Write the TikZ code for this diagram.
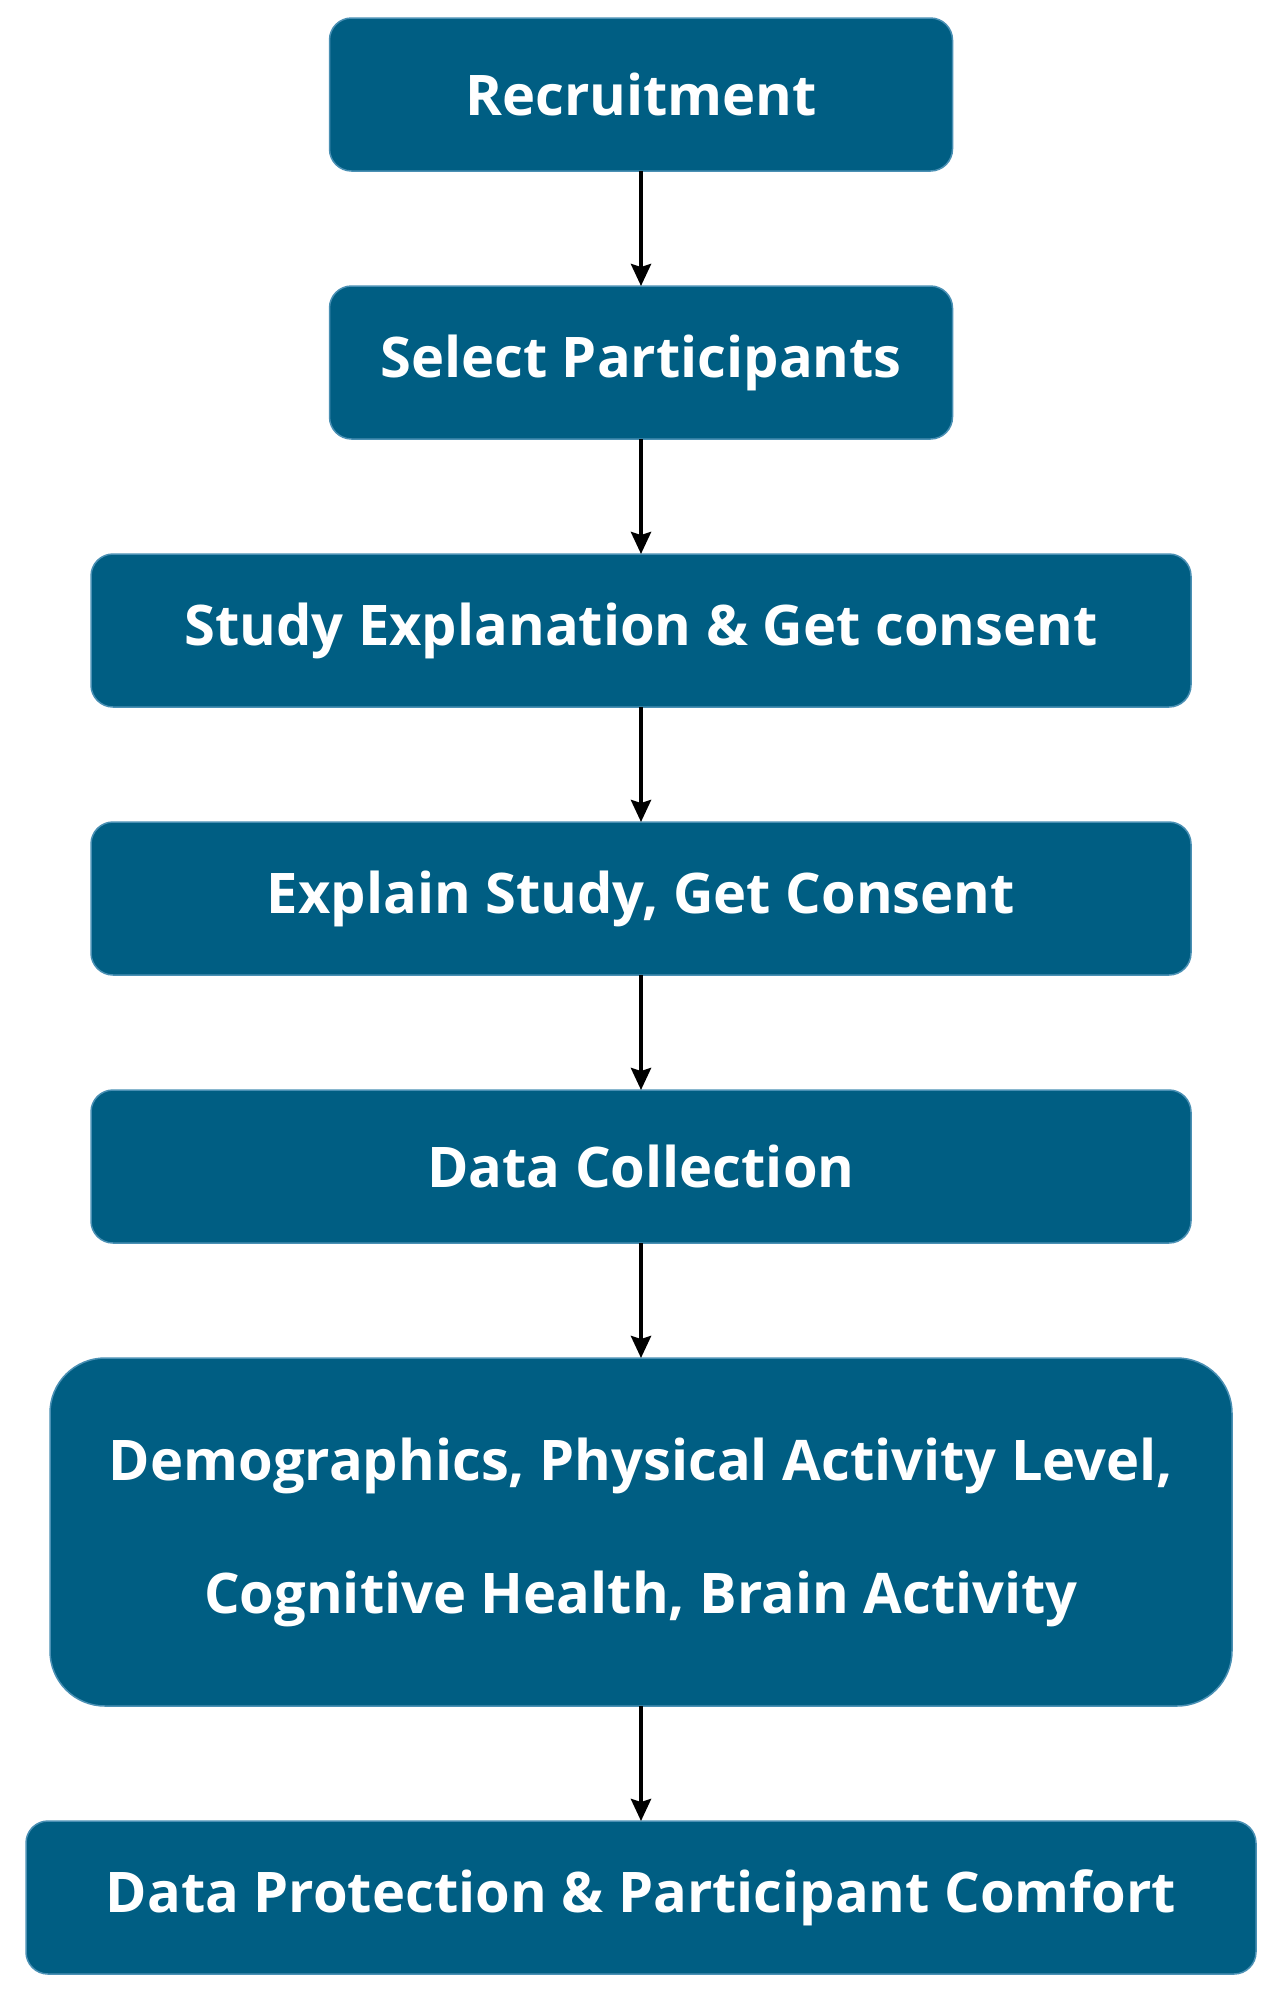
\documentclass[tikz,border=0pt]{standalone}
\usepackage{fontspec}
\setmainfont{Open Sans}
\usepackage{tikz}
\usetikzlibrary{arrows.meta}
\usetikzlibrary{positioning}
\definecolor{boite}{HTML}{005E83}
\definecolor{bord}{HTML}{4A90B4}
\tikzset{
  etape/.style = {rectangle, rounded corners=22pt, fill=boite, draw=bord,
    line width=1.5pt, text=white, align=center, inner sep=0pt, outer sep=0pt,
    font=\fontsize{56}{64}\selectfont\bfseries, minimum height=153pt},
  etape_c/.style = {etape, minimum width=623pt},% etape courte
  etape_l/.style = {etape, minimum width=1100pt},% etape longue
  etape_g/.style = {etape, rounded corners=55pt, minimum width=1182pt,
    minimum height=348pt, font=\fontsize{56}{133}\selectfont\bfseries}% etape grande
}

\begin{document}
\begin{tikzpicture}[->,>={Stealth[length=22pt,width=20pt,inset=3pt]},
  line width=4pt, node distance=115pt]
\useasboundingbox (0,0) rectangle (1276pt,-1990pt);
\node [etape_c] (rec) at (641pt,-94.5pt) {Recruitment};
\node [etape_c, below=of rec] (sel) {Select Participants};
\node [etape_l, below=of sel] (expl) {Study Explanation \& Get consent};
\node [etape_l, below=of expl] (cons) {Explain Study, Get Consent};
\node [etape_l, below=of cons] (coll) {Data Collection};
\node [etape_g, below=of coll] (mes) {Demographics, Physical Activity Level,\\Cognitive Health, Brain Activity};
\node [etape, minimum width=1230pt, below=of mes] (prot) {Data Protection \& Participant Comfort};

\draw (rec) -- (sel);
\draw (sel) -- (expl);
\draw (expl) -- (cons);
\draw (cons) -- (coll);
\draw (coll) -- (mes);
\draw (mes) -- (prot);
\end{tikzpicture}
\end{document}
